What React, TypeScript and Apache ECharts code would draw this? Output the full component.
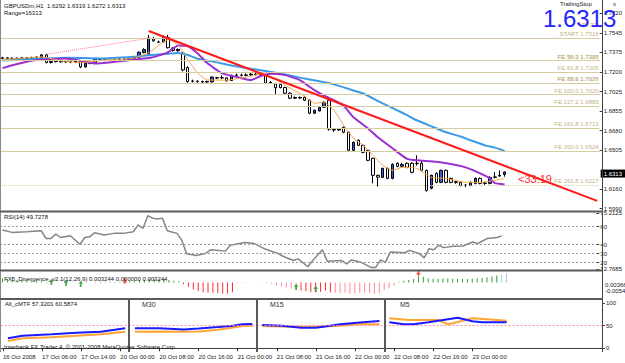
import React, { useEffect, useRef } from 'react';
import * as echarts from 'echarts';

// ---------- DATA ----------
const opens = [
  1.7320, 1.7326, 1.7318, 1.7322, 1.7316, 1.7324, 1.7319, 1.7327, 1.7330, 1.7352,
  1.7285, 1.7292, 1.7300, 1.7290, 1.7296, 1.7288, 1.7295, 1.7245, 1.7282, 1.7276,
  1.7318, 1.7312, 1.7302, 1.7306, 1.7310, 1.7314, 1.7312, 1.7318, 1.7332, 1.7372,
  1.7360, 1.7492, 1.7466, 1.7465, 1.7505, 1.7412, 1.7388, 1.7368, 1.7240, 1.7120,
  1.7118, 1.7114, 1.7112, 1.7112, 1.7150, 1.7148, 1.7148, 1.7124, 1.7170, 1.7172,
  1.7170, 1.7174, 1.7180, 1.7178, 1.7172, 1.7102, 1.7095, 1.7090, 1.7062, 1.7012,
  1.6968, 1.6974, 1.6976, 1.6950, 1.6835, 1.6855, 1.6888, 1.6950, 1.6690, 1.6686,
  1.6710, 1.6666, 1.6506, 1.6595, 1.6550, 1.6506, 1.6435, 1.6284, 1.6266, 1.6346,
  1.6257, 1.6391, 1.6364, 1.6391, 1.6391, 1.6391, 1.6391, 1.6328, 1.6169, 1.6302,
  1.6222, 1.6328, 1.6257, 1.6222, 1.6222, 1.6195, 1.6195, 1.6213, 1.6257, 1.6213,
  1.6213, 1.6266, 1.6280, 1.6292
];
const closes = [
  1.7326, 1.7318, 1.7322, 1.7316, 1.7324, 1.7319, 1.7327, 1.7330, 1.7352, 1.7285,
  1.7292, 1.7300, 1.7290, 1.7296, 1.7288, 1.7295, 1.7245, 1.7282, 1.7276, 1.7318,
  1.7312, 1.7302, 1.7306, 1.7310, 1.7314, 1.7312, 1.7318, 1.7332, 1.7375, 1.7398,
  1.7500, 1.7476, 1.7464, 1.7509, 1.7415, 1.7390, 1.7400, 1.7218, 1.7115, 1.7118,
  1.7114, 1.7112, 1.7116, 1.7155, 1.7146, 1.7150, 1.7122, 1.7170, 1.7172, 1.7170,
  1.7174, 1.7180, 1.7178, 1.7170, 1.7102, 1.7108, 1.7060, 1.7062, 1.7012, 1.6968,
  1.6974, 1.6970, 1.6950, 1.6835, 1.6861, 1.6888, 1.6932, 1.6693, 1.6686, 1.6693,
  1.6666, 1.6506, 1.6577, 1.6550, 1.6488, 1.6417, 1.6284, 1.6268, 1.6346, 1.6257,
  1.6382, 1.6364, 1.6380, 1.6355, 1.6311, 1.6388, 1.6328, 1.6151, 1.6284, 1.6222,
  1.6328, 1.6222, 1.6222, 1.6228, 1.6195, 1.6198, 1.6222, 1.6257, 1.6213, 1.6216,
  1.6266, 1.6270, 1.6284, 1.6313
];
const lows = [
  1.7312, 1.7308, 1.7310, 1.7305, 1.7309, 1.7311, 1.7314, 1.7318, 1.7325, 1.7276,
  1.7275, 1.7284, 1.7282, 1.7280, 1.7278, 1.7283, 1.7236, 1.7240, 1.7268, 1.7272,
  1.7304, 1.7296, 1.7296, 1.7300, 1.7304, 1.7305, 1.7306, 1.7314, 1.7326, 1.7365,
  1.7352, 1.7468, 1.7456, 1.7460, 1.7408, 1.7382, 1.7380, 1.7205, 1.7105, 1.7108,
  1.7105, 1.7100, 1.7104, 1.7106, 1.7138, 1.7138, 1.7116, 1.7120, 1.7160, 1.7160,
  1.7162, 1.7166, 1.7168, 1.7160, 1.7095, 1.7096, 1.7000, 1.7055, 1.7005, 1.6960,
  1.6960, 1.6962, 1.6942, 1.6826, 1.6828, 1.6850, 1.6882, 1.6680, 1.6670, 1.6680,
  1.6658, 1.6498, 1.6500, 1.6544, 1.6480, 1.6410, 1.6213, 1.6186, 1.6260, 1.6250,
  1.6250, 1.6356, 1.6355, 1.6346, 1.6302, 1.6370, 1.6320, 1.6140, 1.6160, 1.6214,
  1.6215, 1.6214, 1.6214, 1.6210, 1.6186, 1.6180, 1.6188, 1.6205, 1.6205, 1.6200,
  1.6205, 1.6258, 1.6270, 1.6272
];
const highs = [
  1.7335, 1.7332, 1.7330, 1.7328, 1.7333, 1.7331, 1.7336, 1.7340, 1.7358, 1.7362,
  1.7300, 1.7310, 1.7306, 1.7304, 1.7302, 1.7305, 1.7300, 1.7288, 1.7292, 1.7326,
  1.7324, 1.7316, 1.7312, 1.7318, 1.7322, 1.7320, 1.7326, 1.7340, 1.7382, 1.7410,
  1.7528, 1.7510, 1.7478, 1.7520, 1.7530, 1.7420, 1.7408, 1.7380, 1.7250, 1.7132,
  1.7126, 1.7124, 1.7122, 1.7160, 1.7156, 1.7170, 1.7154, 1.7176, 1.7186, 1.7184,
  1.7188, 1.7192, 1.7194, 1.7186, 1.7180, 1.7120, 1.7104, 1.7098, 1.7070, 1.7020,
  1.6984, 1.6982, 1.6984, 1.6956, 1.6866, 1.6895, 1.6940, 1.6958, 1.6700, 1.6700,
  1.6716, 1.6672, 1.6584, 1.6602, 1.6556, 1.6512, 1.6440, 1.6290, 1.6352, 1.6352,
  1.6390, 1.6398, 1.6395, 1.6398, 1.6400, 1.6462, 1.6410, 1.6335, 1.6290, 1.6310,
  1.6335, 1.6336, 1.6264, 1.6236, 1.6230, 1.6206, 1.6230, 1.6266, 1.6266, 1.6226,
  1.6275, 1.6313, 1.6328, 1.6319
];

// moving averages: [bar, price]
const maSlow = [
  [0, 1.7302], [7, 1.7316], [13, 1.7326], [20, 1.7320], [27, 1.7335], [30, 1.7348], [34, 1.7362],
  [36, 1.7368], [38, 1.7350], [40, 1.7318], [44, 1.7285], [47, 1.7258], [50, 1.7236], [54, 1.7208],
  [58, 1.7178], [61, 1.7150], [65, 1.7118], [68, 1.7090], [71, 1.7050], [74, 1.7009], [78, 1.6921],
  [81, 1.6860], [83, 1.6817], [85, 1.6772], [88, 1.6718], [91, 1.6666], [94, 1.6628], [96, 1.6595],
  [99, 1.6550], [101, 1.6530], [103, 1.6500]
];
const maMid = [
  [0, 1.7234], [3, 1.7270], [6, 1.7300], [13, 1.7320], [16, 1.7300], [19, 1.7275], [23, 1.7290],
  [26, 1.7305], [30, 1.7323], [32, 1.7345], [34, 1.7376], [36, 1.7435], [38, 1.7428], [40, 1.7367],
  [42, 1.7279], [45, 1.7190], [49, 1.7145], [51, 1.7128], [53, 1.7165], [55, 1.7185], [58, 1.7172],
  [61, 1.7128], [64, 1.7039], [66, 1.6990], [68, 1.6950], [70, 1.6900], [72, 1.6799], [75, 1.6700],
  [77, 1.6621], [80, 1.6524], [83, 1.6430], [85, 1.6417], [89, 1.6405], [92, 1.6385], [95, 1.6355],
  [98, 1.6302], [100, 1.6257], [101, 1.6215], [103, 1.6204]
];
const maFast = [
  [0, 1.7314], [4, 1.7320], [8, 1.7334], [12, 1.7300], [16, 1.7282], [19, 1.7295], [22, 1.7310],
  [25, 1.7314], [27, 1.7323], [30, 1.7370], [32, 1.7435], [34, 1.7488], [36, 1.7442], [38, 1.7310],
  [40, 1.7192], [42, 1.7130], [46, 1.7128], [50, 1.7154], [53, 1.7181], [56, 1.7136], [59, 1.7057],
  [62, 1.6985], [64, 1.6923], [66, 1.6932], [68, 1.6861], [70, 1.6728], [72, 1.6613], [74, 1.6550],
  [76, 1.6462], [78, 1.6373], [80, 1.6328], [82, 1.6355], [85, 1.6346], [88, 1.6266], [91, 1.6257],
  [95, 1.6222], [98, 1.6222], [101, 1.6239], [103, 1.6257]
];
const trendLine = [[30, 1.7563], [122, 1.6058]];
const fiboLeg = [[9, 1.7357], [30, 1.7498]];
const fiboNames = ['START', 'FE 38.2', 'FE 50.0', 'FE 61.8', 'FE 78.6', 'FE 88.6', 'FE 100.0', 'FE 127.2', 'FE 161.8', 'FE 200.0', 'FE 261.8'];
const fiboLevels = [1.7516, 1.7327, 1.7268, 1.7205, 1.7126, 1.7077, 1.7020, 1.6885, 1.6713, 1.6524, 1.6217];
const fiboDotted = ['FE 88.6', 'FE 261.8'];
const lastPrice = 1.6313;

const rsi = [
  [0, 56.2], [2, 53.6], [5, 54.3], [8, 55.4], [9, 46.8], [10, 46.8], [11, 51.7], [12, 47.9], [14, 49.8],
  [16, 40.3], [17, 47.9], [18, 48.6], [19, 53.2], [21, 50.6], [23, 52.5], [25, 52.5], [27, 54.3],
  [28, 61.9], [29, 58.2], [30, 72.1], [31, 69.5], [32, 68.4], [33, 69.5], [34, 55.4], [36, 52.5],
  [37, 44.9], [38, 29.8], [40, 27.8], [42, 30.4], [43, 34.3], [46, 32.7], [47, 39.2], [50, 42.3],
  [52, 41.1], [54, 35.4], [57, 29.8], [58, 26.7], [60, 22.2], [61, 24.1], [63, 15.3], [64, 22.2],
  [66, 34.3], [67, 21.3], [70, 22.2], [71, 18.4], [72, 22.9], [74, 20.2], [76, 14.5], [77, 14.5],
  [78, 22.9], [79, 20.2], [80, 31.6], [83, 30.9], [84, 33.5], [86, 29.8], [87, 25.2], [88, 35.4],
  [89, 34.3], [90, 39.2], [91, 36.6], [93, 38.1], [95, 38.4], [97, 42.9], [98, 41.1], [100, 46.8],
  [102, 47.9], [103, 49.7278]
];
const rsiLevels = [60, 40, 30, 20];
const rsiTicks = [75.2125, 60, 40, 30, 20, 12.7685];

const osma = [
  0.0014, 0.0013, 0.0012, 0.0010, 0.0009, 0.0008, 0.0007, 0.0006, 0.0006, 0.0002,
  -0.0001, 0.0000, 0.0001, -0.0002, 0.0000, 0.0001, -0.0004, -0.0002, -0.0001, 0.0002,
  0.0003, 0.0002, 0.0002, 0.0003, 0.0003, 0.0004, 0.0004, 0.0005, 0.0007, 0.0008,
  0.0012, 0.0012, 0.0011, 0.0012, 0.0009, 0.0006, 0.0004, -0.0006, -0.0016, -0.0024,
  -0.0030, -0.0034, -0.0036, -0.0036, -0.0037, -0.0038, -0.0038, -0.0034, -0.0003, -0.0002,
  -0.0001, 0.0000, 0.0000, -0.0001, -0.0003, -0.0004, -0.0010, -0.0014, -0.0018, -0.0022,
  -0.0024, -0.0028, -0.0030, -0.0034, -0.0034, -0.0032, -0.0028, -0.0034, -0.0036, -0.0036,
  -0.0036, -0.0040, -0.0038, -0.0036, -0.0036, -0.0036, -0.0040, -0.0038, -0.0026, -0.0020,
  -0.0012, 0.0003, 0.0006, 0.0009, 0.0012, 0.0022, 0.0020, 0.0014, 0.0013, 0.0013,
  0.0014, 0.0014, 0.0013, 0.0013, 0.0012, 0.0012, 0.0013, 0.0015, 0.0016, 0.0018,
  0.0021, 0.0024, 0.0028, 0.0032
];
const osmaRedRanges = [[37, 47], [61, 67]];
const osmaBlueFrom = 102;
const bullArrows = [[10, 0.0002], [13, -0.0002], [16, -0.0005], [60, -0.0016], [64, -0.0023]];
const bearArrows = [[25, 0.0005], [85, 0.0033]];

const mtfNames = ['', 'M30', 'M15', 'M5'];
const mtfBlue = [
  [[1, 22.1], [4, 27.8], [10, 30.9], [15, 34.4], [20, 36.6], [25, 44.2]],
  [[27, 44.5], [32, 44.2], [37, 41.5], [40, 43.5], [44, 47], [47, 50], [49, 53], [51, 53.6]],
  [[53, 51.4], [57, 49.5], [61, 45.5], [64, 45.5], [69, 53], [73, 57], [77, 60.3]],
  [[79, 57.4], [82, 53], [84, 53], [87, 57.4], [90, 62.5], [93, 67.5], [96, 59.6], [98, 57.4], [102, 57.4], [103, 57.3201]]
];
const mtfOrange = [
  [[1, 16], [4, 22], [10, 24.3], [15, 27.8], [20, 31], [25, 36.6]],
  [[27, 36.6], [32, 37], [37, 36.6], [40, 37], [44, 41], [47, 46], [49, 49.2], [51, 49.9]],
  [[53, 49], [57, 48], [61, 47.7], [64, 47.7], [69, 50], [73, 53], [77, 53]],
  [[79, 66.2], [83, 62.5], [89, 62.5], [91, 53], [93, 58], [96, 66.2], [99, 64], [103, 60.5874]]
];

const priceTicks = [1.7720, 1.7545, 1.7375, 1.7200, 1.7025, 1.6855, 1.6680, 1.6505, 1.6160, 1.5990];
const timeTickBars = [0, 8, 16, 24, 32, 40, 48, 56, 64, 72, 80, 88, 96];
const timeTickLabels = ['16 Oct 2008', '17 Oct 06:00', '17 Oct 14:00', '20 Oct 00:00', '20 Oct 08:00',
  '20 Oct 16:00', '21 Oct 00:00', '21 Oct 08:00', '21 Oct 16:00', '22 Oct 00:00', '22 Oct 08:00',
  '22 Oct 16:00', '23 Oct 00:00'];
const SLOTS = 123;

// ---------- CHART ----------
const FONT = 'Liberation Sans, Arial, sans-serif';
const AXIS_TXT = '#1a1a1a';
const SEP = '#5a5a5a';

export default function App() {
  const ref = useRef<HTMLDivElement>(null);

  useEffect(() => {
    if (!ref.current) return;
    const chart = echarts.init(ref.current, null, { renderer: 'svg' });
    const cats = Array.from({ length: SLOTS }, (_, i) => 'b' + i);
    const candles = opens.map((o, i) => [o, closes[i], lows[i], highs[i]]);
    const isTimeTick = (i: number) => timeTickBars.indexOf(i) >= 0;

    const grids = [
      { left: 0, right: 23, top: 1, height: 209 },
      { left: 0, right: 23, top: 213, height: 56 },
      { left: 0, right: 23, top: 272, height: 26 },
      { left: 0, right: 23, top: 300, height: 52 }
    ];
    const xAxes = grids.map((_, gi) => ({
      type: 'category', gridIndex: gi, data: cats, boundaryGap: true,
      axisLine: { show: gi === 3, lineStyle: { color: '#404040', width: 1 } },
      axisTick: { show: gi === 3, interval: (i: number) => isTimeTick(i), alignWithLabel: true, length: 3, lineStyle: { color: '#303030' } },
      axisLabel: {
        show: gi === 3, interval: (i: number) => isTimeTick(i), align: 'left', margin: 2,
        fontSize: 6, color: AXIS_TXT, fontFamily: FONT,
        formatter: (_v: string, i: number) => { const k = timeTickBars.indexOf(i); return k >= 0 ? timeTickLabels[k] : ''; }
      },
      splitLine: { show: false }
    }));
    const yCommon = (gi: number, min: number, max: number, ticks: number[], fmt: (v: number) => string) => ({
      type: 'value', gridIndex: gi, position: 'right', min, max,
      splitLine: { show: false }, axisLine: { show: false },
      axisTick: { show: true, customValues: ticks, length: 3, lineStyle: { color: '#404040' } },
      axisLabel: { show: true, customValues: ticks, formatter: fmt, fontSize: 6, margin: 4, color: AXIS_TXT, fontFamily: FONT }
    });
    const yAxes = [
      yCommon(0, 1.5977, 1.7829, priceTicks, (v) => v.toFixed(4)),
      yCommon(1, 12.7685, 75.2125, rsiTicks, (v) => (Number.isInteger(v) ? String(v) : v.toFixed(4))),
      { type: 'value', gridIndex: 2, position: 'right', min: -0.0054, max: 0.00366, splitLine: { show: false }, axisLine: { show: false }, axisTick: { show: false }, axisLabel: { show: false } },
      yCommon(3, -8.2, 106.6, [0, 50, 100], (v) => String(v))
    ];

    const osmaData = osma.map((v, i) => {
      let c = '#2ea02e';
      if (v < 0) c = osmaRedRanges.some(([a, b]) => i >= a && i <= b) ? '#ff2a2a' : '#ff8c9c';
      else if (i >= osmaBlueFrom) c = '#a8c4e0';
      return { value: v, itemStyle: { color: c } };
    });

    const arrowPath = 'path://M4,0 L8,4 L5.5,4 L5.5,9 L2.5,9 L2.5,4 L0,4 Z';

    const series: any[] = [
      {
        type: 'candlestick', xAxisIndex: 0, yAxisIndex: 0, data: candles, barWidth: 3, z: 2,
        itemStyle: { color: '#3458e0', color0: '#ffffff', borderColor: '#000000', borderColor0: '#000000', borderWidth: 1 },
        markLine: {
          silent: true, symbol: 'none', animation: false,
          data: [{ yAxis: lastPrice, lineStyle: { color: 'rgba(0,0,0,0)', width: 0 }, label: { show: true, position: 'end', distance: 1, formatter: lastPrice.toFixed(4), backgroundColor: '#000000', color: '#ffffff', fontSize: 6, fontFamily: FONT, padding: [1, 3, 1, 3] } }]
        }
      },
      {
        type: 'line', xAxisIndex: 0, yAxisIndex: 0, data: maSlow, symbol: 'none', smooth: 0.15, z: 3,
        lineStyle: { color: '#3a9ae6', width: 2 },
        markLine: {
          silent: true, symbol: 'none', animation: false,
          data: fiboLevels.map((lv, k) => ({
            yAxis: lv,
            lineStyle: { color: '#d6cc9e', width: 1, type: fiboDotted.indexOf(fiboNames[k]) >= 0 ? 'dotted' : 'solid' },
            label: { show: true, position: 'insideEndTop', distance: 1, formatter: fiboNames[k] + ' ' + lv.toFixed(4), color: '#c2b386', fontSize: 6, fontFamily: FONT }
          }))
        }
      },
      { type: 'line', xAxisIndex: 0, yAxisIndex: 0, data: maMid, symbol: 'none', smooth: 0.15, z: 4, lineStyle: { color: '#9b30d0', width: 2 } },
      { type: 'line', xAxisIndex: 0, yAxisIndex: 0, data: maFast, symbol: 'none', smooth: 0.15, z: 4, lineStyle: { color: '#f5a348', width: 1 } },
      { type: 'line', xAxisIndex: 0, yAxisIndex: 0, data: trendLine, symbol: 'none', z: 5, lineStyle: { color: '#ff1a1a', width: 2 } },
      { type: 'line', xAxisIndex: 0, yAxisIndex: 0, data: fiboLeg, symbol: 'none', z: 5, lineStyle: { color: '#ff7390', width: 1, type: 'dotted' } },
      {
        type: 'line', xAxisIndex: 1, yAxisIndex: 1, data: rsi, symbol: 'none', lineStyle: { color: '#858585', width: 1.5 },
        markLine: {
          silent: true, symbol: 'none', animation: false,
          data: rsiLevels.map((v) => ({ yAxis: v })),
          lineStyle: { color: '#9a9a9a', width: 1, type: [2, 2] }, label: { show: false }
        }
      },
      { type: 'bar', xAxisIndex: 2, yAxisIndex: 2, data: osmaData, barWidth: 1 },
      { type: 'scatter', xAxisIndex: 2, yAxisIndex: 2, data: bullArrows, symbol: arrowPath, symbolSize: [5, 6], itemStyle: { color: '#1f9a1f' }, z: 5 },
      { type: 'scatter', xAxisIndex: 2, yAxisIndex: 2, data: bearArrows, symbol: arrowPath, symbolSize: [5, 6], symbolRotate: 180, itemStyle: { color: '#ff2020' }, z: 5 }
    ];
    mtfOrange.forEach((sec, k) => {
      series.push({
        type: 'line', xAxisIndex: 3, yAxisIndex: 3, data: sec, symbol: 'none', lineStyle: { color: '#ffa436', width: 2 },
        markLine: k === 0 ? { silent: true, symbol: 'none', animation: false, data: [{ yAxis: 50 }], lineStyle: { color: '#ff8fb0', width: 1, type: [2, 2] }, label: { show: false } } : undefined
      });
    });
    mtfBlue.forEach((sec) => {
      series.push({ type: 'line', xAxisIndex: 3, yAxisIndex: 3, data: sec, symbol: 'none', lineStyle: { color: '#1a1aff', width: 2 } });
    });

    const txt = (text: string, x: number, y: number, size: number, fill: string, extra: any = {}) => ({
      type: 'text', x, y, z: 100, silent: true,
      style: { text, fill, fontSize: size, fontFamily: FONT, verticalAlign: 'middle', align: 'left', ...extra }
    });
    const ln = (x1: number, y1: number, x2: number, y2: number, w: number, c: string) => ({
      type: 'line', z: 90, silent: true, shape: { x1, y1, x2, y2 }, style: { stroke: c, lineWidth: w }
    });

    const graphic: any[] = [
      ln(0.5, 0, 0.5, 352, 1, '#8a8a8a'),
      ln(602.5, 0, 602.5, 352, 1, '#404040'),
      ln(0, 211.5, 603, 211.5, 2, SEP),
      ln(0, 270.5, 603, 270.5, 2, SEP),
      ln(0, 299, 603, 299, 2, SEP),
      ln(129, 299, 129, 352, 2, SEP),
      ln(257, 299, 257, 352, 2, SEP),
      ln(385, 299, 385, 352, 2, SEP),
      txt('GBPUSDm,H1  1.6292 1.6319 1.6272 1.6313', 4, 5.5, 6, '#111'),
      txt('Range=16313', 4, 12.5, 6, '#111'),
      txt('TrailingStop', 560, 3.5, 6, '#222'),
      txt('x', 613, 3.5, 6, '#222'),
      txt('$6.37', 582, 25, 6, '#d8a44a'),
      txt('1.6313', 543, 18.5, 24, '#2424ff'),
      txt('<33:19', 518, 178.5, 11, '#ff2a2a'),
      txt('RSI(14) 49.7278', 4, 217, 6, '#111'),
      txt('FX5_Divergence_v2.1(12,26,9) 0.003244 0.000000 0.003244', 4, 279, 6, '#111'),
      txt('0.00366', 605, 285, 6, AXIS_TXT),
      txt('-0.0054', 605, 291, 6, AXIS_TXT),
      txt('All_cMTF 57.3201 60.5874', 5, 303.5, 6, '#111'),
      txt('Interbank FX Trader 4, \u00a9 2001-2008 MetaQuotes Software Corp.', 4, 347, 6, '#111')
    ];
    const sectionX = [5, 142, 270, 400];
    mtfNames.forEach((n, k) => { if (n) graphic.push(txt(n, sectionX[k], 304, 7, '#333')); });

    chart.setOption({
      animation: false,
      backgroundColor: '#ffffff',
      textStyle: { fontFamily: FONT },
      grid: grids,
      xAxis: xAxes,
      yAxis: yAxes,
      series,
      graphic
    });
    return () => chart.dispose();
  }, []);

  return <div ref={ref} style={{ position: 'fixed', left: 0, top: 0, width: 625, height: 363, background: '#fff' }} />;
}
